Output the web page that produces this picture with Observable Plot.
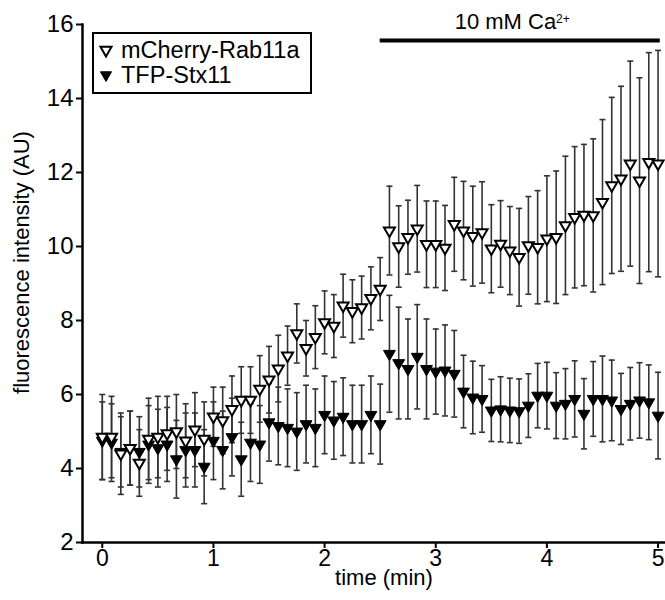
<!DOCTYPE html>
<html>
<head>
<meta charset="utf-8">
<script src="https://cdn.jsdelivr.net/npm/d3@7"></script>
<script src="https://cdn.jsdelivr.net/npm/@observablehq/plot@0.6"></script>
<style>
  html, body { margin: 0; padding: 0; background: #fff; }
  #chart { width: 665px; height: 600px; }
  svg text { font-family: "Liberation Sans", Arial, Helvetica, sans-serif; }
</style>
</head>
<body>
<div id="chart"></div>
<script>
// time points (seconds)
const seconds = [0,5,10,15,20,25,30,35,40,45,50,55,60,65,70,75,80,85,90,95,100,105,110,115,120,125,130,135,140,145,150,155,160,165,170,175,180,185,190,195,200,205,210,215,220,225,230,235,240,245,250,255,260,265,270,275,280,285,290,295,300];

// mCherry-Rab11a (open triangles): mean and error
const rabMean = [4.85,4.85,4.4,4.55,4.15,4.8,4.85,4.95,5.0,4.75,5.05,4.8,5.4,5.3,5.6,5.85,5.85,6.15,6.4,6.7,7.05,7.65,7.25,7.55,7.95,7.85,8.4,8.25,8.35,8.6,8.85,10.43,10.0,10.25,10.48,10.06,10.06,9.96,10.6,10.43,10.28,10.38,9.94,10.07,9.89,9.71,10.03,9.98,10.21,10.25,10.57,10.79,10.85,10.84,11.2,11.65,11.83,12.24,11.78,12.28,12.24];
const rabErr = [1.15,1.1,1.1,1.0,0.9,1.1,1.1,1.0,1.0,1.0,1.0,1.0,0.8,0.9,0.9,0.9,0.9,0.9,0.9,0.9,0.8,0.8,0.75,0.85,0.85,0.85,0.85,0.85,0.85,0.85,0.85,1.2,1.1,1.0,1.17,1.17,1.17,1.15,1.27,1.33,1.35,1.37,1.19,1.17,1.19,1.32,1.32,1.53,1.7,1.79,1.87,1.91,1.91,2.07,2.23,2.38,2.5,2.77,2.78,2.96,3.06];

// TFP-Stx11 (filled triangles): mean and error
const stxMean = [4.75,4.7,4.45,4.55,4.45,4.65,4.55,4.65,4.25,4.5,4.5,4.05,4.75,4.5,4.85,4.25,4.7,4.65,5.25,5.15,5.1,5.0,5.2,5.1,5.45,5.3,5.4,5.2,5.2,5.45,5.2,7.1,6.85,6.69,7.02,6.69,6.62,6.65,6.56,6.08,5.92,5.88,5.57,5.6,5.57,5.55,5.7,5.97,5.97,5.7,5.75,5.88,5.48,5.88,5.88,5.84,5.61,5.75,5.84,5.79,5.43];
const stxErr = [1.05,1.05,0.95,1.0,0.95,1.05,1.05,1.0,1.05,1.0,1.0,1.0,1.05,1.05,1.05,1.0,1.05,1.05,1.05,1.05,1.05,1.05,1.05,1.05,1.05,1.05,1.05,1.05,1.05,1.05,1.08,1.58,1.51,1.35,1.41,1.35,1.15,1.23,1.17,0.98,0.98,0.9,0.84,0.88,0.87,0.87,0.86,0.87,0.9,0.89,0.95,1.03,0.95,1.01,1.16,1.09,0.96,0.98,1.02,1.01,1.17];

const seriesNames = ["mCherry-Rab11a", "TFP-Stx11"];
const yTicks = [2,4,6,8,10,12,14,16];
const xTicks = [0,1,2,3,4,5];
const caStart = 2.5, caEnd = 5.02, caLevel = 15.57;   // Ca2+ bar (min, AU)
const caLabel = "10 mM Ca";

const toRows = (mean, err) => mean.map((m, i) => ({t: seconds[i] / 60, m, lo: m - err[i], hi: m + err[i]}));
const rab = toRows(rabMean, rabErr);
const stx = toRows(stxMean, stxErr);

// horizontal cap symbol
const cap = { draw(ctx, size) { const w = Math.sqrt(size / Math.PI); ctx.moveTo(-w, 0); ctx.lineTo(w, 0); } };

const barColor = "#333";
const errMarks = (rows) => [
  Plot.ruleX(rows, {x: "t", y1: "lo", y2: "hi", stroke: barColor, strokeWidth: 1.6}),
  Plot.dot(rows, {x: "t", y: "hi", symbol: cap, r: 3, stroke: barColor, strokeWidth: 1.6}),
  Plot.dot(rows, {x: "t", y: "lo", symbol: cap, r: 3, stroke: barColor, strokeWidth: 1.6})
];

const chart = Plot.plot({
  width: 665,
  height: 600,
  marginLeft: 82,
  marginRight: 0,
  marginTop: 24,
  marginBottom: 58,
  style: {fontFamily: "'Liberation Sans', Arial, sans-serif", fontSize: "22px", color: "#000", background: "#fff"},
  x: {domain: [-0.178, 5.067]},
  y: {domain: [2, 16]},
  marks: [
    Plot.axisY({ticks: yTicks, tickSize: 6, tickPadding: 3, strokeWidth: 2, fontSize: 24, label: null}),
    Plot.axisX({ticks: xTicks, tickFormat: d3.format("d"), tickSize: 6, tickPadding: 1, strokeWidth: 2, fontSize: 23, label: null}),
    Plot.frame({anchor: "left", strokeWidth: 2.5}),
    Plot.frame({anchor: "bottom", strokeWidth: 2.5}),
    Plot.text(["fluorescence intensity (AU)"], {frameAnchor: "left", textAnchor: "middle", rotate: -90, dx: -61, dy: -21, fontSize: 22}),
    Plot.text(["time (min)"], {frameAnchor: "bottom", textAnchor: "middle", dy: 42, dx: 10, fontSize: 22}),
    ...errMarks(stx),
    ...errMarks(rab),
    Plot.dot(stx, {x: "t", y: "m", symbol: "triangle", rotate: 180, r: 4.4, fill: "#000", stroke: "#000", strokeWidth: 1}),
    Plot.dot(rab, {x: "t", y: "m", symbol: "triangle", rotate: 180, r: 4.1, fill: "#fff", stroke: "#000", strokeWidth: 2}),
    Plot.ruleY([caLevel], {x1: caStart, x2: caEnd, strokeWidth: 4, stroke: "#000"}),
    Plot.text([caLabel], {x: [(caStart + caEnd) / 2], y: [caLevel], dy: -18, dx: -8, fontSize: 22, className: "ca-label"})
  ]
});

document.getElementById("chart").appendChild(chart);

// superscript on the Ca label
const svg = d3.select(chart);
svg.selectAll(".ca-label text").each(function() {
  d3.select(this).append("tspan").attr("dy", "-0.55em").attr("font-size", "12px").text("2+");
});

// legend box inside the plot
const lg = svg.append("g").attr("font-family", "'Liberation Sans', Arial, sans-serif").attr("text-anchor", "start");
lg.append("rect").attr("x", 93).attr("y", 33).attr("width", 218).attr("height", 60)
  .attr("fill", "#fff").attr("stroke", "#000").attr("stroke-width", 2);
const sym = d3.symbol(d3.symbolTriangle, Math.PI * 17);
[{name: seriesNames[0], fill: "#fff", y: 50}, {name: seriesNames[1], fill: "#000", y: 75}].forEach(d => {
  lg.append("path").attr("d", sym()).attr("transform", `translate(106,${d.y}) rotate(180)`)
    .attr("fill", d.fill).attr("stroke", "#000").attr("stroke-width", d.fill === "#fff" ? 2 : 1);
  lg.append("text").attr("x", 121).attr("y", d.y).attr("dy", "0.35em").attr("font-size", 23.5).attr("text-anchor", "start").text(d.name);
});
</script>
</body>
</html>
